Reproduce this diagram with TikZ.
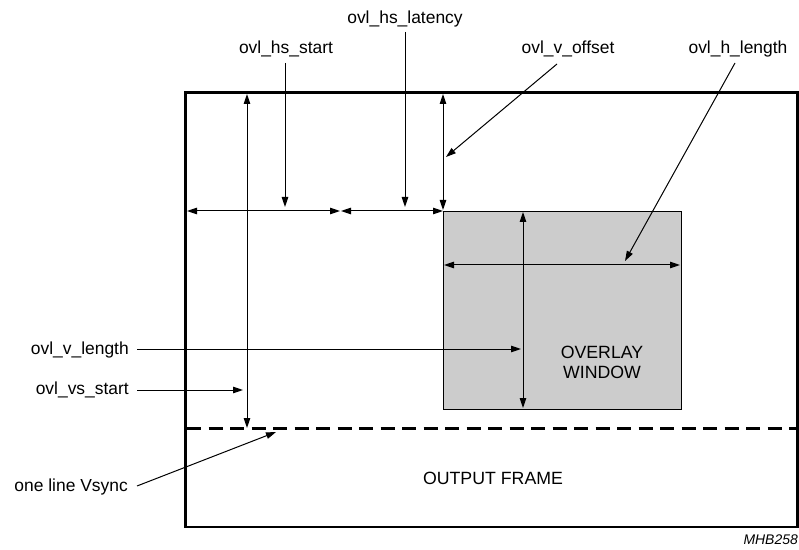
\documentclass[tikz,border=0pt]{standalone}
\usepackage{fontspec}
\setmainfont{Liberation Sans}
\usetikzlibrary{arrows.meta}
\begin{document}
\begin{tikzpicture}[x=1bp,y=-1bp,
  lbl/.style={inner sep=0pt,font=\fontsize{17.5}{20}\selectfont},
  caplbl/.style={inner sep=0pt,font=\fontsize{17.8}{21}\selectfont,align=center},
  thinln/.style={line width=1bp},
  arr/.style={thinln,-{Triangle[length=10bp,width=6.5bp]}},
  dbl/.style={thinln,{Triangle[length=10bp,width=6.5bp]}-{Triangle[length=10bp,width=6.5bp]}}]
\useasboundingbox (0,0) rectangle (799,550);
% frame and window
\draw[line width=2.7bp] (185.5,92.5) rectangle (797.6,527);
\node[draw,line width=1.2bp,fill=black!20,minimum width=238bp,minimum height=198bp,inner sep=0pt,anchor=north west] (win) at (443,211) {};
\draw[line width=2.2bp,dash pattern=on 14bp off 7.5bp] (187,428.5) -- (797,428.5);
% labels
\node[lbl] (hsstart) at (286,49) {ovl\_hs\_start};
\node[lbl] (hslat) at (405,19) {ovl\_hs\_latency};
\node[lbl] (voff) at (568,49) {ovl\_v\_offset};
\node[lbl] (hlen) at (738,49) {ovl\_h\_length};
\node[lbl,anchor=east] (vlen) at (129,350) {ovl\_v\_length};
\node[lbl,anchor=east] (vsst) at (129,390) {ovl\_vs\_start};
\node[lbl,anchor=east] (vsync) at (128,487) {one line Vsync};
\node[caplbl] (of) at (493,478) {OUTPUT FRAME};
\node[caplbl] (ow) at (602,362) {OVERLAY\\[-1bp]WINDOW};
\node[inner sep=0pt,anchor=east,font=\fontsize{14}{16}\selectfont\itshape] (mhb) at (798,540) {MHB258};
% coordinates
\coordinate (a1s) at (285,63); \coordinate (a1e) at (285,207);
\coordinate (a2s) at (405,32); \coordinate (a2e) at (405,207);
\coordinate (h1a) at (187,211); \coordinate (h1b) at (340,211);
\coordinate (h2a) at (341,211); \coordinate (h2b) at (443,211);
\coordinate (vo1) at (443,94); \coordinate (vo2) at (443,210);
\coordinate (vos) at (557,64); \coordinate (voe) at (446,157);
\coordinate (hls) at (735,63); \coordinate (hle) at (625,261);
\coordinate (w1) at (444,265); \coordinate (w2) at (680,265);
\coordinate (w3) at (523,212); \coordinate (w4) at (523,408);
\coordinate (vl1) at (247,94); \coordinate (vl2) at (247,428);
\coordinate (vls) at (137,349); \coordinate (vle) at (521,349);
\coordinate (vss) at (137,390); \coordinate (vse) at (243,390);
\coordinate (vys) at (137,486); \coordinate (vye) at (276,432);
% connectors
\draw[arr] (a1s) -- (a1e);
\draw[arr] (a2s) -- (a2e);
\draw[dbl] (h1a) -- (h1b);
\draw[dbl] (h2a) -- (h2b);
\draw[dbl] (vo1) -- (vo2);
\draw[arr] (vos) -- (voe);
\draw[arr] (hls) -- (hle);
\draw[dbl] (w1) -- (w2);
\draw[dbl] (w3) -- (w4);
\draw[dbl] (vl1) -- (vl2);
\draw[arr] (vls) -- (vle);
\draw[arr] (vss) -- (vse);
\draw[arr] (vys) -- (vye);
\end{tikzpicture}
\end{document}
